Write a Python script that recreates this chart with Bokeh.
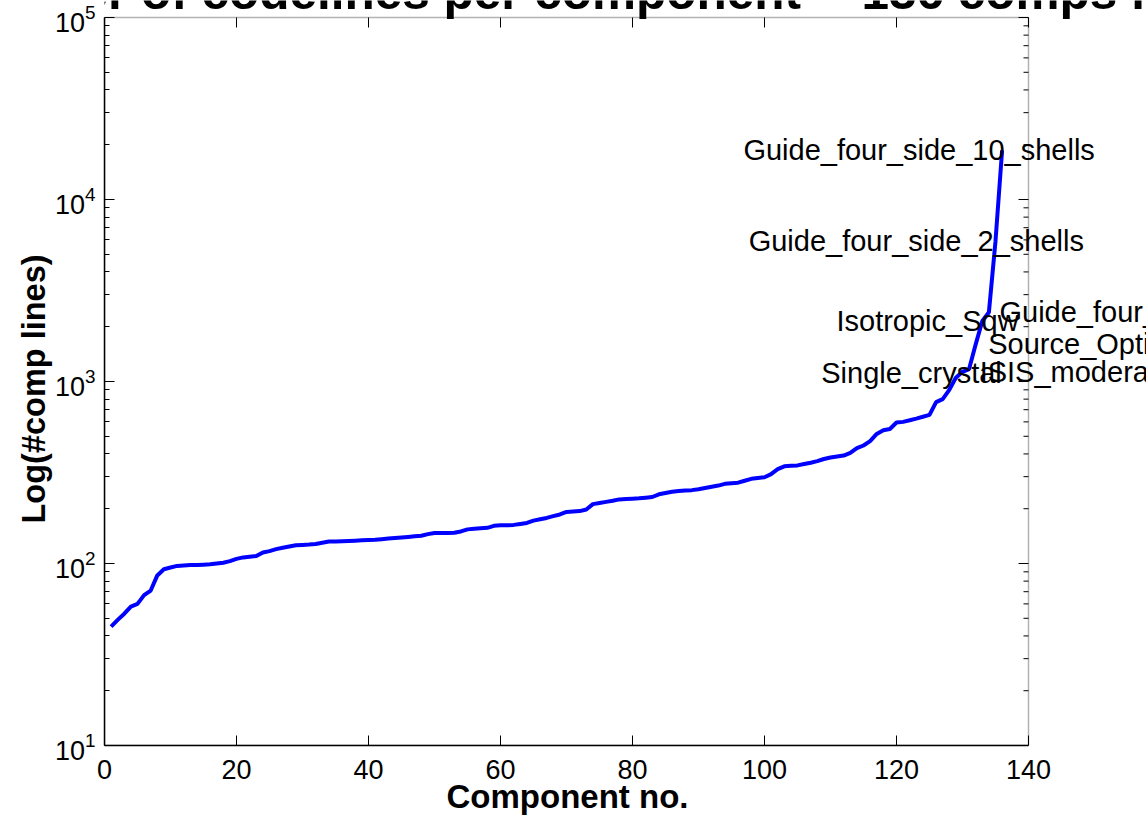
import math
from bokeh.plotting import figure
from bokeh.models import Label, FixedTicker, ColumnDataSource, BoxAnnotation, Title
from bokeh.embed import file_html
from bokeh.resources import INLINE

# ---- data ----
comp_no = list(range(1, 137))
code_lines = [
    45, 49, 53, 58, 60, 67, 71, 86, 93, 95,
    97, 97.5, 98, 98, 98.5, 99, 100, 101, 103, 106,
    108, 109, 110, 115, 117, 120, 122, 124, 126, 126.5,
    127, 128, 130, 132, 132, 132.5, 133, 133.5, 134, 134.5,
    135, 136, 137, 138, 139, 140, 141, 142, 145, 147,
    147, 147, 147.5, 150, 154, 155, 156, 157, 161, 162,
    162, 163, 165, 167, 172, 175, 178, 182, 186, 192,
    193, 194, 198, 212, 215, 218, 221, 225, 226, 227,
    228, 230, 232, 240, 244, 248, 250, 252, 253, 256,
    260, 264, 268, 274, 276, 278, 285, 292, 295, 298,
    310, 330, 342, 344, 346, 352, 358, 365, 375, 382,
    387, 392, 405, 430, 445, 470, 515, 540, 548, 595,
    600, 612, 625, 640, 655, 770, 800, 900, 1050, 1130,
    1170, 1600, 2150, 2400, 5900, 18600,
]
label_names = ["Guide_four_side_10_shells", "Guide_four_side_2_shells", "Isotropic_Sqw",
               "Guide_four_side", "Source_Optimizer", "ISIS_moderator", "Single_crystal"]
label_x = [96.8, 97.6, 110.9, 135.6, 133.9, 132.6, 108.6]
label_y = [18600, 5900, 2150, 2400, 1600, 1130, 1110]
x_ticks = [0, 20, 40, 60, 80, 100, 120, 140]
y_major = [10, 100, 1000, 10000, 100000]
title_text = "Number of codelines per component -- 136 comps in McStas"
x_label = "Component no."
y_label = "Log(#comp lines)"

FONT = "Liberation Sans"

# axes box (data limits) and layout in pixels
X0, X1 = x_ticks[0], x_ticks[-1]
Y0, Y1 = y_major[0], y_major[-1]
W, H = 1146, 816
LEFT, TOP_BOX, BOTTOM = 104, 17, 71
BOX_W = 924                                  # pixels for X0..X1
BOX_H = H - BOTTOM - TOP_BOX                 # pixels for Y0..Y1
px_x = BOX_W / (X1 - X0)
px_dec = BOX_H / (math.log10(Y1) - math.log10(Y0))
x_end = X0 + (W - LEFT) / px_x
y_end = 10 ** (math.log10(Y1) + TOP_BOX / px_dec)

p = figure(width=W, height=H, x_range=(X0, x_end), y_range=(Y0, y_end),
           y_axis_type="log", output_backend="svg", toolbar_location=None,
           min_border_left=LEFT, min_border_right=0, min_border_top=0,
           min_border_bottom=BOTTOM, background_fill_color="white",
           border_fill_color="white")
p.xgrid.visible = False
p.ygrid.visible = False
p.outline_line_color = None

# axes box
p.add_layout(BoxAnnotation(left=X0, right=X1, bottom=Y0, top=Y1, fill_color=None,
                           line_color="black", line_width=1.5))

src = ColumnDataSource(dict(x=comp_no, y=code_lines))
p.line("x", "y", source=src, line_color="#0000ff", line_width=4)

y_minor = [m * d for d in y_major[:-1] for m in range(2, 10)]

def style_axis(ax):
    ax.axis_line_color = "black"
    ax.axis_line_width = 1.5
    ax.major_tick_in = 10
    ax.major_tick_out = 0
    ax.minor_tick_in = 5
    ax.minor_tick_out = 0
    ax.major_tick_line_color = "black"
    ax.minor_tick_line_color = "black"
    ax.major_label_text_font = FONT
    ax.major_label_text_color = "black"
    ax.major_label_text_font_size = "27px"

xa = p.xaxis[0]
xa.ticker = FixedTicker(ticks=x_ticks)
xa.bounds = (X0, X1)
style_axis(xa)
xa.minor_tick_line_color = None
xa.major_label_standoff = 14

ya = p.yaxis[0]
ya.ticker = FixedTicker(ticks=y_major, minor_ticks=y_minor)
ya.bounds = (Y0, Y1)
style_axis(ya)
ya.major_label_standoff = 9

# axis titles, placed so that they are centred on the axes box
p.add_layout(Title(text=x_label, align="left", offset=342, standoff=-11,
                   text_font=FONT, text_font_style="bold", text_font_size="33px",
                   text_color="black"), "below")
p.add_layout(Title(text=y_label, align="left", offset=222, standoff=0,
                   text_font=FONT, text_font_style="bold", text_font_size="32.5px",
                   text_color="black"), "left")

# mirrored inside ticks on the top and right edges of the box
top_major_y = [Y1 / 10 ** (10 / px_dec)] * len(x_ticks)
p.segment(x0=x_ticks, y0=[Y1] * len(x_ticks), x1=x_ticks, y1=top_major_y,
          line_color="black", line_width=1)
p.segment(x0=[X1] * len(y_major), y0=y_major, x1=[X1 - 10 / px_x] * len(y_major),
          y1=y_major, line_color="black", line_width=1)
p.segment(x0=[X1] * len(y_minor), y0=y_minor, x1=[X1 - 5 / px_x] * len(y_minor),
          y1=y_minor, line_color="black", line_width=1)

for name, lx, ly in zip(label_names, label_x, label_y):
    p.add_layout(Label(x=lx, y=ly, text=name, text_font=FONT, text_font_size="29px",
                       text_align="left", text_baseline="middle", text_color="black"))

p.add_layout(Label(x=-24.9, y=10 ** (math.log10(Y1) + (TOP_BOX + 9) / px_dec),
                   text=title_text, text_font=FONT,
                   text_font_style="bold", text_font_size="49.5px",
                   text_align="left", text_baseline="alphabetic", text_color="black"))

open("out.html", "w").write(file_html(p, INLINE))
